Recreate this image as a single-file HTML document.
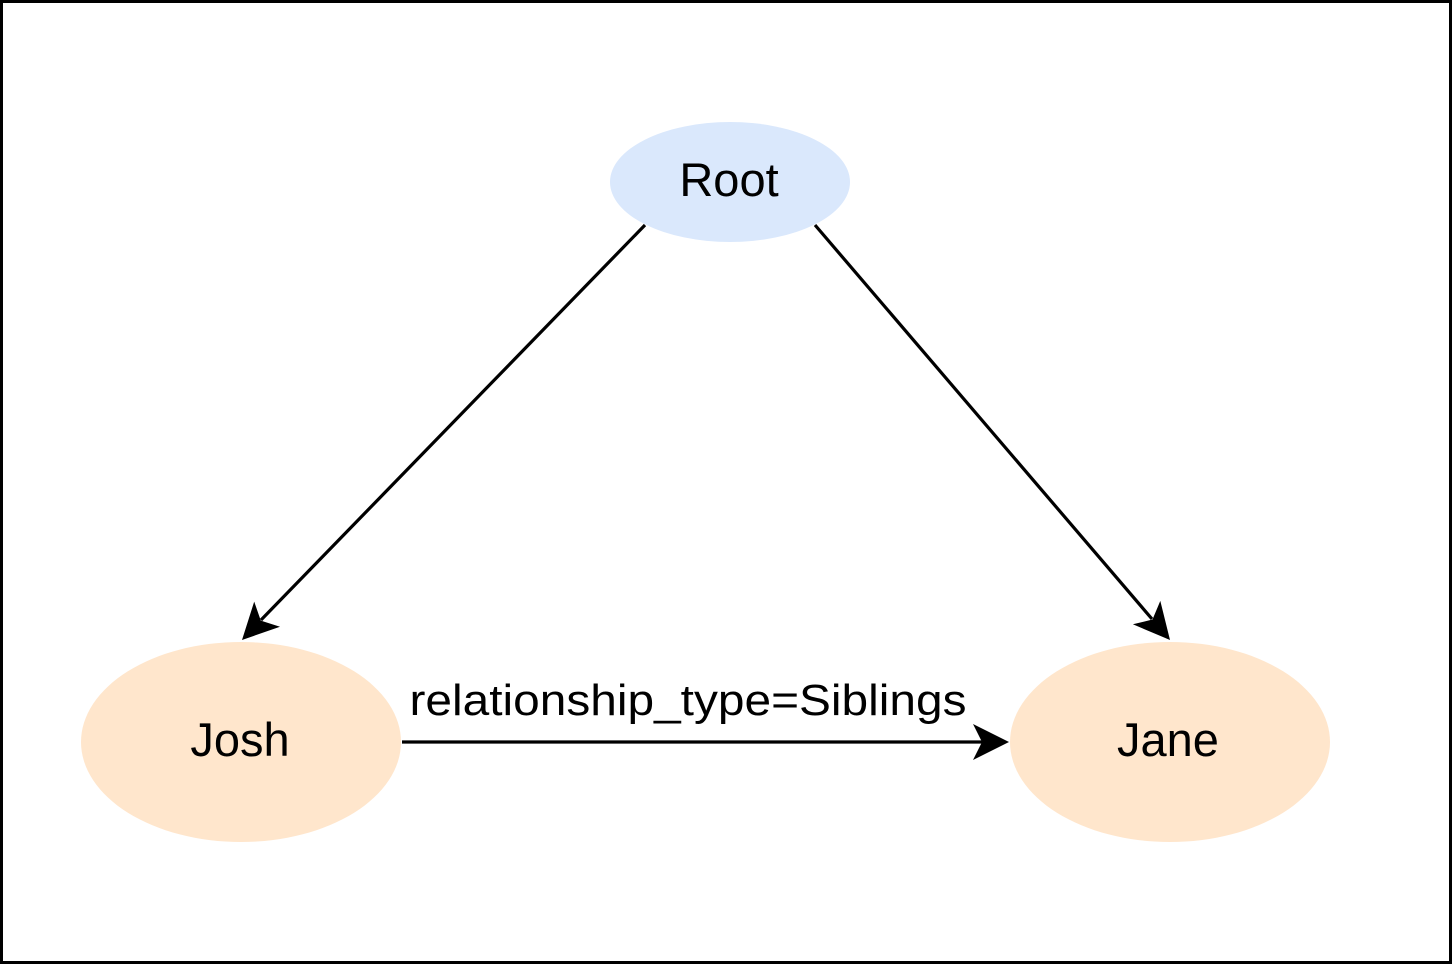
<!DOCTYPE html>
<html><head><style>body{margin:0;background:#fff}svg{display:block}text{font-family:"Liberation Sans",Arial,sans-serif;fill:#000}</style></head>
<body><svg width="1452" height="964" viewBox="0 0 1452 964">
<rect x="1.5" y="1.5" width="1449" height="961" fill="#fff" stroke="#000" stroke-width="3"/>
<ellipse cx="730" cy="182" rx="120" ry="60" fill="#dae8fc"/>
<ellipse cx="241" cy="742" rx="160" ry="100" fill="#ffe6cc"/>
<ellipse cx="1170" cy="742" rx="160" ry="100" fill="#ffe6cc"/>
<g stroke="#000" stroke-width="3.2" fill="none">
<line x1="645" y1="225" x2="261" y2="620"/>
<line x1="815" y1="225" x2="1152" y2="619"/>
<line x1="402" y1="742" x2="983" y2="742"/>
</g>
<g fill="#000">
<polygon points="242,640 280,626.7 260.8,620.6 254.2,601.6"/>
<polygon points="1170,640 1160.3,600.9 1152.5,619.5 1132.9,624.3"/>
<polygon points="1009,742 973,724 982,742 973,760"/>
</g>
<text x="729" y="196" font-size="47" text-anchor="middle">Root</text>
<text x="240" y="756" font-size="47" text-anchor="middle">Josh</text>
<text x="1168" y="756" font-size="47" text-anchor="middle">Jane</text>
<text x="688" y="715" font-size="44" text-anchor="middle" textLength="557" lengthAdjust="spacingAndGlyphs">relationship_type=Siblings</text>
</svg></body></html>
